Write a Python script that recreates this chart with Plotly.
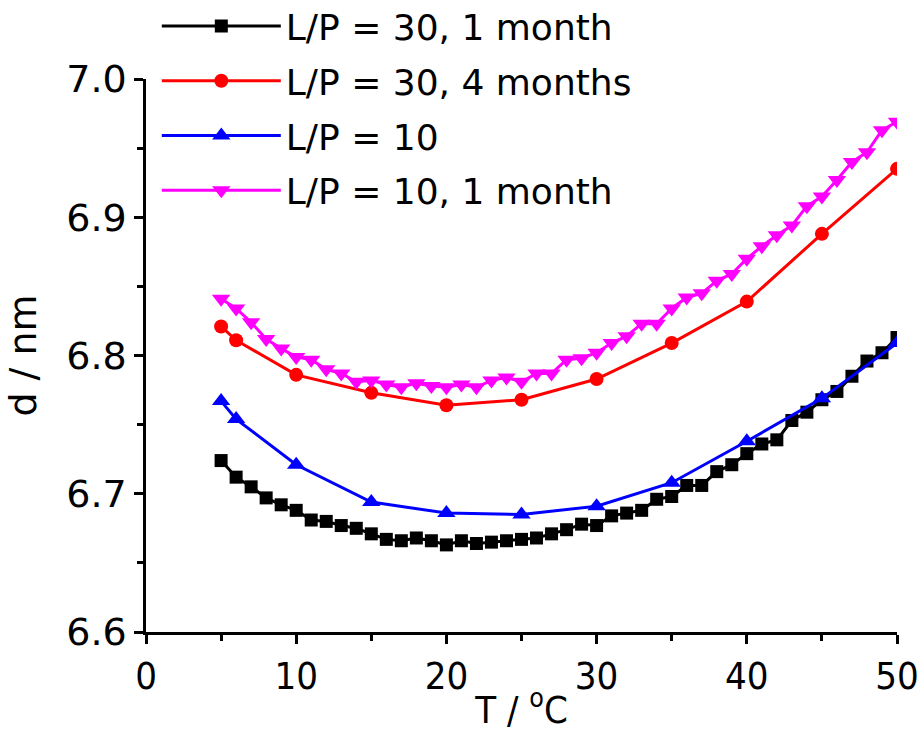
import plotly.graph_objects as go

# ---- data ----
T_dense = list(range(5, 51))
T_sparse = [5, 6, 10, 15, 20, 25, 30, 35, 40, 45, 50]

d_lp30_1m = [6.724, 6.712, 6.705, 6.697, 6.692, 6.688, 6.681, 6.680, 6.677, 6.675,
             6.671, 6.667, 6.666, 6.668, 6.666, 6.663, 6.666, 6.664, 6.665, 6.666,
             6.667, 6.668, 6.671, 6.674, 6.678, 6.677, 6.684, 6.686, 6.688, 6.696,
             6.698, 6.706, 6.706, 6.716, 6.721, 6.729, 6.736, 6.739, 6.753, 6.759,
             6.768, 6.774, 6.785, 6.796, 6.802, 6.813]
d_lp30_4m = [6.821, 6.811, 6.786, 6.773, 6.764, 6.768, 6.783, 6.809, 6.839, 6.888, 6.935]
d_lp10 = [6.767, 6.754, 6.721, 6.694, 6.686, 6.685, 6.691, 6.708, 6.738, 6.769, 6.809]
d_lp10_1m = [6.841, 6.834, 6.824, 6.812, 6.805, 6.799, 6.797, 6.790, 6.787, 6.781,
             6.782, 6.779, 6.777, 6.780, 6.778, 6.777, 6.779, 6.777, 6.782, 6.784,
             6.781, 6.787, 6.787, 6.797, 6.798, 6.802, 6.809, 6.814, 6.823, 6.823,
             6.834, 6.842, 6.845, 6.854, 6.859, 6.870, 6.879, 6.887, 6.894, 6.908,
             6.915, 6.927, 6.940, 6.947, 6.963, 6.969]

names = ["L/P = 30, 1 month", "L/P = 30, 4 months", "L/P = 10", "L/P = 10, 1 month"]

FONT = "DejaVu Sans"
FONT_X = "DejaVu Sans Condensed, Liberation Sans Narrow, DejaVu Sans"

fig = go.Figure()
fig.add_trace(go.Scatter(x=T_dense, y=d_lp30_1m, mode="lines+markers", name=names[0],
                         legendgroup="a",
                         line=dict(color="black", width=3),
                         marker=dict(symbol="square", size=13, color="black")))
fig.add_trace(go.Scatter(x=T_sparse, y=d_lp30_4m, mode="lines+markers", name=names[1],
                         legendgroup="b",
                         line=dict(color="#ff0000", width=3),
                         marker=dict(symbol="circle", size=14, color="#ff0000")))
fig.add_trace(go.Scatter(x=T_sparse, y=d_lp10, mode="lines+markers", name=names[2],
                         legendgroup="c",
                         line=dict(color="#0000ff", width=3),
                         marker=dict(symbol="triangle-up", size=16, color="#0000ff")))
fig.add_trace(go.Scatter(x=T_dense, y=d_lp10_1m, mode="lines+markers", name=names[3],
                         legendgroup="d",
                         line=dict(color="#ff00ff", width=3, dash="solid"),
                         marker=dict(symbol="triangle-down", size=16, color="#ff00ff")))

axis_common = dict(
    showline=True, linecolor="black", linewidth=2.5,
    ticks="outside", ticklen=9, tickwidth=2.5, tickcolor="black",
    showgrid=False, zeroline=False, mirror=False, automargin=True,
)

fig.update_xaxes(range=[0, 50], dtick=10, tick0=0,
                 tickfont=dict(family=FONT_X, size=38, color="black"),
                 minor=dict(ticks="outside", ticklen=6, tickwidth=2.5, tickcolor="black", dtick=5),
                 title=dict(text="T / <sup>o</sup>C", font=dict(family=FONT_X, size=38, color="black"),
                            standoff=0),
                 **axis_common)
fig.update_yaxes(range=[6.6, 7.0], dtick=0.1, tick0=6.6, tickformat=".1f",
                 tickfont=dict(family=FONT, size=38, color="black"),
                 minor=dict(ticks="outside", ticklen=6, tickwidth=2.5, tickcolor="black", dtick=0.05),
                 title=dict(text="d / nm", font=dict(family=FONT, size=38, color="black"),
                            standoff=18),
                 **axis_common)

# plot area at x 146..897, y 79..632 of the window
fig.update_layout(
    width=923, height=740,
    margin=dict(l=146, r=26, t=79, b=108, autoexpand=False),
    paper_bgcolor="white", plot_bgcolor="white",
    showlegend=True,
    legend=dict(x=0.0144, y=1.150, xanchor="left", yanchor="top",
                font=dict(family=FONT, size=36, color="black"),
                bgcolor="rgba(0,0,0,0)", itemwidth=119, tracegroupgap=5,
                traceorder="grouped"),
)

fig.write_html("out.html",
               config={"displayModeBar": False},
               post_script="document.body.style.margin='0px';"
                           "document.body.style.overflow='hidden';")
